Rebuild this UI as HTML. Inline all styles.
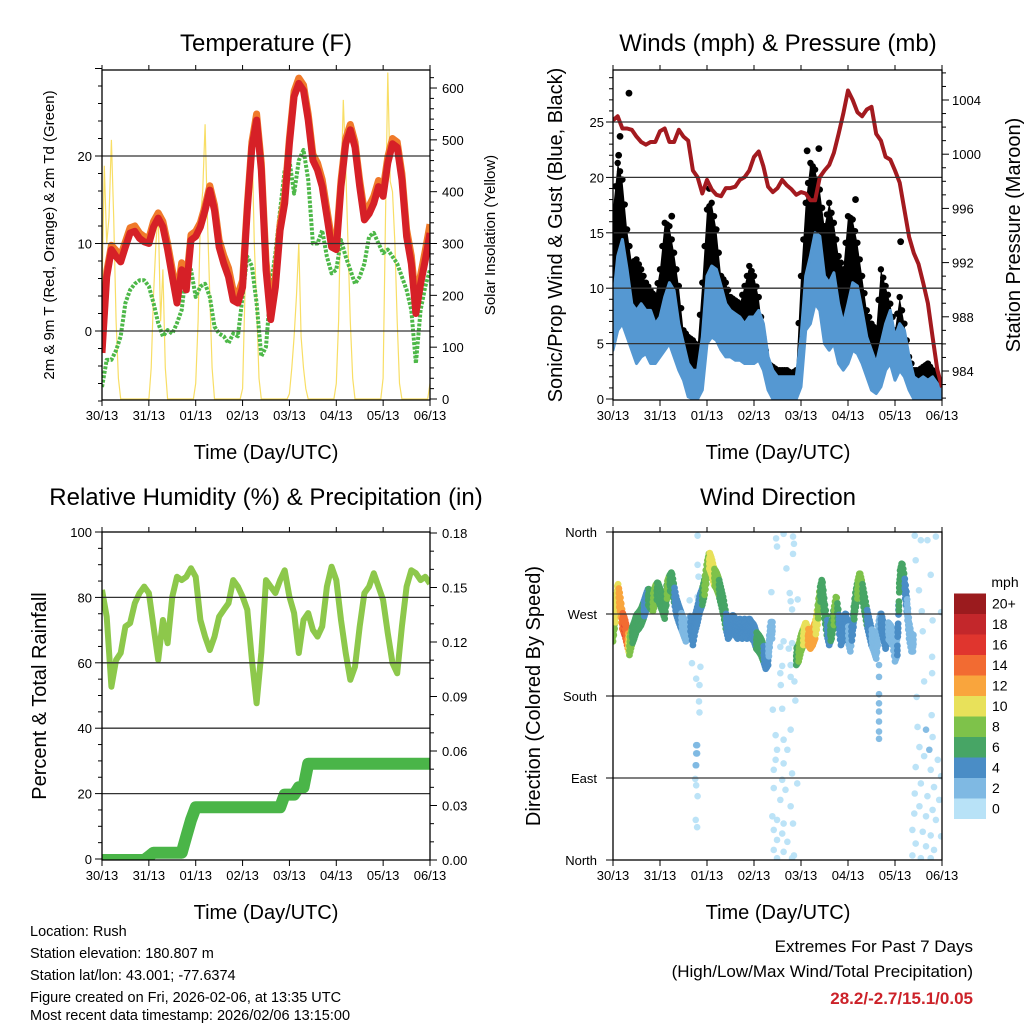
<!DOCTYPE html>
<html><head><meta charset="utf-8"><title>Station Meteogram</title>
<style>
html,body{margin:0;padding:0;background:#fff;}
svg{display:block;font-family:"Liberation Sans",Arial,sans-serif;}
</style></head>
<body>
<svg id="chart" width="1024" height="1024" viewBox="0 0 1024 1024" xmlns="http://www.w3.org/2000/svg">
<rect x="0" y="0" width="1024" height="1024" fill="#fff"/>
<g font-size="24" text-anchor="middle" fill="#000">
<text x="266" y="51">Temperature (F)</text>
<text x="778" y="51">Winds (mph) &amp; Pressure (mb)</text>
<text x="266" y="505">Relative Humidity (%) &amp; Precipitation (in)</text>
<text x="778" y="505">Wind Direction</text>
</g>
<g font-size="20" text-anchor="middle" fill="#000">
<text x="266" y="459">Time (Day/UTC)</text>
<text x="778" y="459">Time (Day/UTC)</text>
<text x="266" y="919">Time (Day/UTC)</text>
<text x="778" y="919">Time (Day/UTC)</text>
<text transform="translate(54,235) rotate(-90)" font-size="15">2m &amp; 9m T (Red, Orange) &amp; 2m Td (Green)</text>
<text transform="translate(495,235) rotate(-90)" font-size="15">Solar Insolation (Yellow)</text>
<text transform="translate(562,235) rotate(-90)">Sonic/Prop Wind &amp; Gust (Blue, Black)</text>
<text transform="translate(1020,235) rotate(-90)">Station Pressure (Maroon)</text>
<text transform="translate(46,696) rotate(-90)">Percent &amp; Total Rainfall</text>
<text transform="translate(540,696) rotate(-90)">Direction (Colored By Speed)</text>
</g>
<g id="layers"></g>
<g font-size="14.5" fill="#000">
<text x="30" y="936">Location: Rush</text>
<text x="30" y="958">Station elevation: 180.807 m</text>
<text x="30" y="980">Station lat/lon: 43.001; -77.6374</text>
<text x="30" y="1002">Figure created on Fri, 2026-02-06, at 13:35 UTC</text>
<text x="30" y="1020">Most recent data timestamp: 2026/02/06 13:15:00</text>
</g>
<g font-size="17" text-anchor="end" fill="#000">
<text x="973" y="952">Extremes For Past 7 Days</text>
<text x="973" y="977">(High/Low/Max Wind/Total Precipitation)</text>
<text x="973" y="1004" fill="#cc2229" font-weight="bold">28.2/-2.7/15.1/0.05</text>
</g>
</svg>
<script>
// ---- data (time step 0.1 day unless noted) ----
const dayLabels = ["30/13","31/13","01/13","02/13","03/13","04/13","05/13","06/13"];
const temp2m = [-2.5,6.2,9.3,8.5,7.9,9.6,11.2,11.4,10.6,10.2, 10,11.9,12.9,11.9,9.3,6.2,3.2,7,4.7,10.4, 10.8,11.9,13.8,16.1,13.8,9.6,7.7,6.2,3.5,3.2, 5,13.8,21,24.1,18.4,7,1.3,5,11.5,14.6, 21.4,26.8,28.3,27.5,24.1,19.5,18.4,16.5,13.1,9.6, 9.3,16.5,21.4,23,21,16.5,12.7,13.4,14.6,16.5, 15.4,19.2,21.4,21,17.3,10.8,7.7,2,5.4,8.1, 11.2];
const temp9m = [-2,6.8,9.8,9.2,8.6,10.2,11.8,12,11.2,10.8, 10.6,12.5,13.5,12.5,10,7,4,7.8,5.5,11, 11.4,12.4,14.3,16.6,14.4,10.4,8.6,7.2,4.6,4.2, 5.8,14.4,21.6,24.8,19.2,8,2.4,6,12.2,15.3, 22,27.4,28.9,28.1,24.8,20.2,19.2,17.3,13.9,10.5, 10.2,17.2,22,23.6,21.6,17.2,13.6,14.3,15.4,17.2, 16.2,19.9,22,21.6,18,11.6,8.6,3.2,6.4,9.2, 12.2];
const dewpoint = [-6.4,-3.3,-3.3,-2.2,-0.6,3.2,4.7,5.4,5.8,5.8, 5.1,3.2,0.9,-0.6,0.1,-0.3,0.9,2.4,7,7, 3.9,5.1,5.4,3.9,0.5,-0.3,-0.6,-1.4,-0.3,-0.6, 4,8.5,7.4,3.2,-2.9,-1.8,5,8.9,13.8,18.4, 19.5,15.7,19.5,20.7,17.3,10,10,11.5,8.5,6.6, 7,10.4,8.5,7,5.4,6.2,7.7,10.8,11.2,10, 8.9,9.3,8.5,7.7,6.2,4.7,2.4,-3.7,2.4,5.1, 7];
// solar insolation, 0.05-day step
const solar = [200,450,300,350,500,350,150,40,0,0,0,0,0,0,0,0,0,0,0,0,
 0,60,200,300,360,150,250,60,0,0,0,0,0,0,0,0,0,0,0,0,
 30,150,350,400,530,350,200,60,0,0,0,0,0,0,0,0,0,0,0,0,
 20,200,380,480,510,300,180,40,0,0,0,0,0,0,0,0,0,0,0,0,
 10,60,120,200,300,120,60,20,0,0,0,0,0,0,0,0,0,0,0,0,
 30,150,400,577,450,300,150,40,0,0,0,0,0,0,0,0,0,0,0,0,
 40,350,630,420,400,300,150,30,0,0,0,0,0,0,0,0,0,0,0,0,
 30];
const pressure = [1002.5,1002.8,1001.9,1001.9,1001.8,1001.3,1000.9,1000.7,1000.9,1000.9, 1001.7,1001.9,1000.9,1000.9,1001.8,1001.3,1001.0,998.8,998.3,997.1, 998.1,997.4,997.0,996.9,997.5,997.5,997.6,998.1,998.3,998.8, 999.8,1000.2,999.1,997.6,997.2,997.5,998.1,997.7,997.4,997.0, 997.2,997.1,996.6,996.6,998.3,998.8,999.2,1000.1,1001.5,1003.0, 1004.7,1004.0,1003.1,1002.8,1003.3,1003.5,1001.5,1001.0,999.8,999.6, 998.8,997.9,995.9,993.9,992.7,991.9,990.5,989.0,986.5,984.1, 982.8];
const windHigh = [8.6,12.9,14.4,11.7,8.6,8.0,8.6,8.0,8.0,6.8, 7.4,9.2,10.5,9.8,6.8,5.0,3.2,2.6,2.6,5.6, 11.1,12.0,11.7,10.2,8.6,8.0,7.7,7.4,6.8,7.4, 7.4,8.0,6.8,3.8,2.6,2.0,2.0,2.0,2.0,2.0, 5.6,11.1,12.9,15.0,14.7,11.1,10.5,11.4,8.6,6.8, 8.6,10.5,10.2,8.0,5.6,4.4,3.2,5.0,6.8,8.0, 5.6,6.8,6.2,3.8,2.0,1.7,2.0,1.7,2.0,1.4, 0.8];
const windLow = [4.4,6.2,6.8,5.6,4.4,3.2,3.8,4.1,3.2,3.2, 3.8,4.4,5.0,3.8,2.6,1.7,0.2,0,0,0.8, 5.0,5.6,5.3,4.4,3.8,3.8,3.5,3.5,3.2,3.2, 3.2,3.5,2.6,0.8,0,0,0,0,0,0, 1.1,6.2,6.8,8.6,8.0,5.0,4.4,5.0,3.2,2.6, 3.2,4.4,4.1,3.2,2.0,0.8,0.5,1.1,2.6,3.2, 1.7,2.6,2.0,0.8,0,0,0,0,0,0, 0];
const gust = [17.1,21.3,19.8,15.3,12.3,12.6,11.7,10.5,9.8,9.2, 11.7,15.9,15.6,13.2,10.2,6.2,5.6,5.3,4.7,10.5, 17.1,17.7,15.3,11.1,10.5,9.2,8.9,8.6,10.2,12.0, 11.1,9.2,5.6,3.2,2.9,2.6,2.6,2.6,2.3,2.6, 11.1,17.7,21.3,20.7,18.9,15.6,17.7,15.9,12.9,11.7, 16.5,16.2,14.1,11.1,8.0,6.8,6.2,11.7,10.2,8.6, 6.2,9.2,6.8,3.8,2.6,2.6,2.9,3.2,2.6,2.0, 1.1];
const gustPeakTimes = [0.34,0.15,0.12,4.13,4.38,5.16,6.12,1.25,2.05];
const gustPeakValues = [27.6,23.7,22.0,22.4,22.6,18.0,14.2,16.5,19.0];
const humidity = [82.3,74.1,52.7,60.9,63,71.1,72.1,78.2,81.3,83.3, 81.3,71.1,60.9,73.1,66,80.2,86.3,85.3,86.3,88.9, 86.3,73.1,68,63.9,68,74.1,76.2,78.2,85.3,83.3, 80.2,76.2,60.9,47.6,63,85.3,83.3,81.3,85.3,88.3, 80.2,75.2,63,73.1,75.2,70.1,68,71.1,83.3,89.4, 85.3,73.1,63,54.8,58.8,71.1,81.3,83.3,87.4,83.3, 79.2,69,59.9,56.8,71.1,83.3,88.3,87.4,85.3,86.3, 84.2];
const precip = [0,0,0,0,0,0,0,0,0,0, 0.002,0.004,0.004,0.004,0.004,0.004,0.004,0.004,0.013,0.022, 0.029,0.029,0.029,0.029,0.029,0.029,0.029,0.029,0.029,0.029, 0.029,0.029,0.029,0.029,0.029,0.029,0.029,0.029,0.029,0.036, 0.036,0.036,0.040,0.040,0.053,0.053,0.053,0.053,0.053,0.053, 0.053,0.053,0.053,0.053,0.053,0.053,0.053,0.053,0.053,0.053, 0.053,0.053,0.053,0.053,0.053,0.053,0.053,0.053,0.053,0.053, 0.053];
// wind direction, 0.05-day step (null = calm gap)
const windDir = [249,270,296,282,263,256,245,234,245,252, 260,263,267,274,282,289,285,282,292,296, 289,282,274,296,303,307,292,278,270,263, 256,249,252,260,245,260,270,282,289,300, 318,329,322,311,307,300,289,278,263,252, 256,260,256,252,256,252,256,252,256,252, 249,241,238,234,227,219,223,252, null,null,null,null,null,null,null,null,null,null, 223,227,238,245,252,245,241,245,252,267, 289,300,274,256,245,252,267,282,263,245, 252,263,249,238,256,282,296,307,296,282, 267,256,245,238,230,252,263,252,241,252, 249,245,227,234,307,318,303,282,252,238, null,null,null,null,null,null,null,null,null,null,null,null,null];
const dirSpeed = [8,10,11,13,14,16,15,9,8,7, 7,7,6,6,5,6,7,8,9,7, 6,6,7,8,8,7,6,5,4,4, 3,3,3,4,4,4,4,5,6,8, 9,10,11,10,9,8,7,6,6,5, 5,5,5,4,4,5,5,5,4,4, 5,6,7,7,6,5,4,2, null,null,null,null,null,null,null,null,null,null, 7,8,9,10,11,12,13,13,12,10, 8,7,7,6,5,7,8,9,6,4, 4,5,4,3,5,7,8,9,8,7, 6,5,4,3,3,3,4,4,5,4, 3,3,2,4,7,7,6,4,3,2, null,null,null,null,null,null,null,null,null,null,null,null,null];
const calmTimes = [1.80,1.80,1.82,1.80,1.86,1.77,1.84,1.83,1.84,1.79,1.79,1.76,1.75,1.77,1.80,1.76,1.79,1.63,1.68,
 3.47,3.49,3.63,3.83,3.85,3.83,3.69,3.37,3.76,3.78,3.93,3.81,3.63,3.81,3.56,3.74,3.60,3.78,3.56,3.78,3.86,3.57,3.88,3.40,3.60,3.78,3.46,3.63,3.49,3.71,3.46,3.63,3.42,3.81,3.60,3.92,3.42,3.67,3.56,3.78,3.39,3.49,3.63,3.83,3.42,3.60,3.49,3.71,3.42,3.63,3.85,3.49,3.81,
 6.42,6.55,6.69,6.87,6.44,6.76,6.51,6.57,6.98,6.80,6.59,6.79,6.79,6.62,6.46,6.78,6.48,6.66,6.80,6.52,6.73,6.62,6.91,6.44,6.76,6.98,6.55,6.83,6.42,6.69,6.94,6.52,6.80,6.41,6.66,6.87,6.37,6.59,6.76,6.98,6.44,6.66,6.83,6.37,6.55,6.76,
 1.77,1.77,1.77,5.66,5.66,5.66,5.66,5.66,5.66,5.66,5.66];
const calmDirs = [356,324,311,289,212,199,192,174,162,126,117,104,89,82,70,44,36,285,216,
 353,344,358,355,347,336,320,294,293,284,286,275,240,238,234,232,213,214,205,201,196,192,175,165,166,143,137,132,121,121,110,106,99,95,88,84,79,77,66,59,48,44,40,40,33,29,22,20,11,9,5,2,2,
 356,351,351,355,329,313,296,273,272,263,251,223,205,196,179,159,146,143,135,124,121,114,110,102,99,92,84,80,73,70,66,59,55,51,48,44,33,31,27,26,18,15,11,5,2,2,
 126,117,104,201,214,182,172,163,152,141,133];
const calmSpeeds = [1,1,1,1,1,1,1,1,1,3,3,3,1,1,1,1,1,1,1,
 1,1,1,1,1,1,1,1,1,1,1,1,1,1,1,1,1,1,1,1,1,1,1,1,1,1,1,1,1,1,1,1,1,1,1,1,1,1,1,1,1,1,1,1,1,1,1,1,1,1,1,1,1,
 1,1,1,1,1,1,1,1,1,1,1,1,1,1,1,1,1,3,1,1,3,1,1,1,1,1,1,1,1,1,1,1,1,1,1,1,1,1,1,1,1,1,1,1,1,1,
 3,3,3,3,3,3,3,3,3,3,3];
const speedBins = ["0","2","4","6","8","10","12","14","16","18","20+"];
const speedColors = ["#b8e2f7","#7fb9e3","#4a8dc6","#47a565","#7ec24a","#e8e15a","#f9a53d","#f26b32","#e0352e","#c3272b","#9b1b1e"];

// ---- scales ----
const NS="http://www.w3.org/2000/svg";
const layers=document.getElementById('layers');
const xA=t=>102+t*46.857;
const xB=t=>613+t*47;
const yT=v=>331-v*8.75;
const yS=v=>399-v*0.5183;
const yW=v=>399-v*11.08;
const yP=p=>371-(p-984)*13.55;
const yRH=v=>859-v*3.27;
const yPr=v=>860-v/0.03*54.5;
const yD=d=>860-d/360*328;
function mk(tag,attrs,parent){const e=document.createElementNS(NS,tag);for(const k in attrs)e.setAttribute(k,attrs[k]);(parent||layers).appendChild(e);return e;}
function pathFrom(arr,step,xf,yf){let d="";arr.forEach((v,i)=>{if(v===null)return;d+=(d?"L":"M")+xf(i*step).toFixed(1)+","+yf(v).toFixed(1);});return d;}
function makeClip(id,x,y,w,h){const c=mk('clipPath',{id:id});mk('rect',{x:x,y:y,width:w,height:h},c);}
makeClip('cA',102,70,328,330);makeClip('cB',613,70,329,330);makeClip('cC',102,532,328,328);makeClip('cD',613,532,329,328);
function speedColor(s){let i=Math.floor(s/2);if(i>10)i=10;if(i<0)i=0;return speedColors[i];}

function drawFrame(x0,y0,x1,y1,name){
  const r=mk('rect',{x:x0,y:y0,width:x1-x0,height:y1-y0,fill:'none',stroke:'#000','stroke-width':1.3});
  
  
}
function gridLine(x0,x1,y,name){const l=mk('line',{x1:x0,x2:x1,y1:y,y2:y,stroke:'#333','stroke-width':1.3});
  
  }
function ytick(x,y,len){mk('line',{x1:x,x2:x+len,y1:y,y2:y,stroke:'#000','stroke-width':1});}
function addLabel(x,y,txt,anchor,size,name){const t=mk('text',{x:x,y:y,'text-anchor':anchor,'font-size':size,fill:'#000'});t.textContent=txt;
  
  return t;}
function xAxis(xf,yBottom,yTop){
  dayLabels.forEach((lab,i)=>{const x=xf(i);
    mk('line',{x1:x,x2:x,y1:yBottom,y2:yBottom+6,stroke:'#000','stroke-width':1});
    mk('line',{x1:x,x2:x,y1:yTop,y2:yTop-5,stroke:'#000','stroke-width':1});
    addLabel(x,yBottom+20,lab,'middle',13,'x-tick-label');});
}

// ===== Panel A: temperature =====
const gA=mk('g',{'clip-path':'url(#cA)'});


[0,10,20].forEach(v=>gridLine(102,430,yT(v),'temp-gridline'));
const sol=mk('path',{d:pathFrom(solar,0.05,xA,yS),fill:'none',stroke:'#f7d84a','stroke-width':1.2,opacity:0.85},gA);


const dew=mk('path',{d:pathFrom(dewpoint,0.1,xA,yT),fill:'none',stroke:'#4db848','stroke-width':4,'stroke-dasharray':'3 1.5','stroke-linejoin':'round'},gA);


const t9=mk('path',{d:pathFrom(temp9m,0.1,xA,yT),fill:'none',stroke:'#f07a2a','stroke-width':7,'stroke-linejoin':'round'},gA);


const t2=mk('path',{d:pathFrom(temp2m,0.1,xA,yT),fill:'none',stroke:'#d62027','stroke-width':7,'stroke-linejoin':'round'},gA);


drawFrame(102,70,430,400,'temperature-frame');
for(let v=-8;v<=30;v+=2){ytick(102,yT(v),v%10===0?-7:-4);}
[0,10,20].forEach(v=>addLabel(92,yT(v)+5,String(v),'end',13,'temp-y-tick-label'));
for(let v=0;v<=620;v+=20){ytick(430,yS(v),v%100===0?7:4);}
for(let v=0;v<=600;v+=100)addLabel(442,yS(v)+5,String(v),'start',13,'solar-y-tick-label');
xAxis(xA,400,70);

// ===== Panel B: winds & pressure =====
const gB=mk('g',{'clip-path':'url(#cB)'});


[5,10,15,20,25].forEach(v=>gridLine(613,942,yW(v),'wind-gridline'));
let gustTopPath="",gustBotPath="";
gust.forEach((v,i)=>{gustTopPath+=(i?"L":"M")+xB(i*0.1).toFixed(1)+","+yW(v).toFixed(1);});
for(let i=windHigh.length-1;i>=0;i--){gustBotPath+="L"+xB(i*0.1).toFixed(1)+","+yW(windHigh[i]).toFixed(1);}
const gb=mk('path',{d:gustTopPath+gustBotPath+"Z",fill:'#000'},gB);


gust.forEach((v,i)=>{const c=mk('circle',{cx:xB(i*0.1),cy:yW(v),r:3.2,fill:'#000'},gB);
  
  
  if(i<gust.length-1){const c2=mk('circle',{cx:xB(i*0.1+0.05),cy:yW((v+gust[i+1])/2),r:3.2,fill:'#000'},gB);
  
  }});
gustPeakTimes.forEach((t,i)=>{const c=mk('circle',{cx:xB(t),cy:yW(gustPeakValues[i]),r:3.4,fill:'#000'},gB);
  
  });
let windTopPath="",windBotPath="";
windHigh.forEach((v,i)=>{windTopPath+=(i?"L":"M")+xB(i*0.1).toFixed(1)+","+yW(v).toFixed(1);});
for(let i=windLow.length-1;i>=0;i--){windBotPath+="L"+xB(i*0.1).toFixed(1)+","+yW(windLow[i]).toFixed(1);}
const wbp=mk('path',{d:windTopPath+windBotPath+"Z",fill:'#5598d2',stroke:'#5598d2','stroke-width':3,'stroke-linejoin':'round'},gB);


const pr=mk('path',{d:pathFrom(pressure,0.1,xB,yP),fill:'none',stroke:'#a31a1f','stroke-width':4,'stroke-linejoin':'round'},gB);


drawFrame(613,70,942,400,'winds-frame');
for(let v=0;v<=29;v+=1){ytick(613,yW(v),v%5===0?-7:-4);}
[0,5,10,15,20,25].forEach(v=>addLabel(604,yW(v)+5,String(v),'end',13,'wind-y-tick-label'));
for(let p=982;p<=1006;p+=1){ytick(942,yP(p),p%4===0?7:4);}
for(let p=984;p<=1004;p+=4)addLabel(952,yP(p)+5,String(p),'start',13,'pressure-y-tick-label');
xAxis(xB,400,70);

// ===== Panel C: humidity & precip =====
const gC=mk('g',{'clip-path':'url(#cC)'});


[20,40,60,80].forEach(v=>gridLine(102,430,yRH(v),'humidity-gridline'));
const pp=mk('path',{d:pathFrom(precip,0.1,xA,yPr),fill:'none',stroke:'#4ab548','stroke-width':12,'stroke-linecap':'round','stroke-linejoin':'round'},gC);


const rh=mk('path',{d:pathFrom(humidity,0.1,xA,yRH),fill:'none',stroke:'#8dc84b','stroke-width':6,'stroke-linejoin':'round'},gC);


drawFrame(102,532,430,860,'humidity-frame');
for(let v=0;v<=100;v+=5){ytick(102,yRH(v),v%20===0?-7:-4);}
for(let v=0;v<=100;v+=20)addLabel(92,yRH(v)+5,String(v),'end',13,'humidity-y-tick-label');
for(let k=0;k<=18;k++){ytick(430,yPr(k*0.01),k%3===0?7:4);}
for(let k=0;k<=6;k++)addLabel(442,yPr(k*0.03)+5,(k*0.03).toFixed(2),'start',13,'precip-y-tick-label');
xAxis(xA,860,532);

// ===== Panel D: wind direction =====
const gD=mk('g',{'clip-path':'url(#cD)'});


[90,180,270].forEach(v=>gridLine(613,942,yD(v),'direction-gridline'));
const spread=[-5,0,5];
calmTimes.forEach((t,i)=>{const c=mk('circle',{cx:xB(t),cy:yD(calmDirs[i]),r:3.3,fill:speedColor(calmSpeeds[i]),opacity:0.95},gD);
  
  });
for(let i=0;i<windDir.length-1;i++){
  const a=windDir[i],b=windDir[i+1];if(a===null)continue;
  const bb=(b===null)?a:b;const sa=dirSpeed[i],sb=(dirSpeed[i+1]===null)?sa:dirSpeed[i+1];
  for(let k=0;k<6;k++){const f=k/6;const d=a+(bb-a)*f;const s=sa+(sb-sa)*f;
    spread.forEach(o=>{const c=mk('circle',{cx:xB(i*0.05+f*0.05),cy:yD(d+o+((k%2)?4:-4)),r:3.4,fill:speedColor(s)},gD);
      
      });}
}
drawFrame(613,532,942,860,'direction-frame');
[0,90,180,270,360].forEach(v=>ytick(613,yD(v),-7));
["North","East","South","West","North"].forEach((n,i)=>addLabel(597,yD(i*90)+5,n,'end',13,'direction-y-tick-label'));
xAxis(xB,860,532);
addLabel(1005,587,'mph','middle',14,'colorbar-title');
speedBins.forEach((lab,i)=>{const y=819-(i+1)*20.5;
  const r=mk('rect',{x:954,y:y,width:32,height:20.5,fill:speedColors[i]});
  
  
  addLabel(992,y+15,lab,'start',14,'colorbar-label');});
</script>
</body></html>
